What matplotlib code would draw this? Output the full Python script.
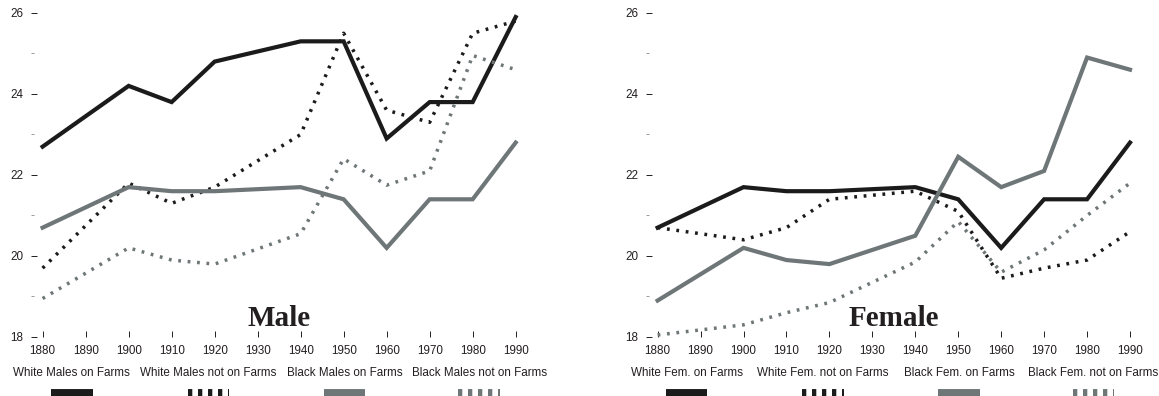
import matplotlib
matplotlib.use("Agg")
import matplotlib.pyplot as plt
from matplotlib.lines import Line2D
from matplotlib import transforms

plt.rcParams['font.family'] = ['Liberation Sans', 'DejaVu Sans']
plt.rcParams['lines.scale_dashes'] = False

# census years (no 1890 / 1930 observations)
years = [1880, 1900, 1910, 1920, 1940, 1950, 1960, 1970, 1980, 1990]
decades = list(range(1880, 2000, 10))

# median age at first marriage, men
white_m_farm = [22.7, 24.2, 23.8, 24.8, 25.3, 25.3, 22.9, 23.8, 23.8, 25.9]
white_m_nonfarm = [19.7, 21.8, 21.3, 21.7, 23.0, 25.5, 23.6, 23.3, 25.5, 25.8]
black_m_farm = [20.7, 21.7, 21.6, 21.6, 21.7, 21.4, 20.2, 21.4, 21.4, 22.8]
black_m_nonfarm = [18.95, 20.2, 19.9, 19.8, 20.55, 22.4, 21.75, 22.1, 24.95, 24.6]

# median age at first marriage, women
white_f_farm = [20.7, 21.7, 21.6, 21.6, 21.7, 21.4, 20.2, 21.4, 21.4, 22.8]
white_f_nonfarm = [20.7, 20.4, 20.7, 21.4, 21.6, 21.1, 19.45, 19.7, 19.9, 20.6]
black_f_farm = [18.9, 20.2, 19.9, 19.8, 20.5, 22.45, 21.7, 22.1, 24.9, 24.6]
black_f_nonfarm = [18.05, 18.3, 18.6, 18.85, 19.85, 20.85, 19.6, 20.15, 21.0, 21.8]

male_labels = ['White Males on Farms', 'White Males not on Farms',
               'Black Males on Farms', 'Black Males not on Farms']
female_labels = ['White Fem. on Farms', 'White Fem. not on Farms',
                 'Black Fem. on Farms', 'Black Fem. not on Farms']
legend_x = [1886.8, 1918.5, 1950.2, 1981.5]

BLACK = '#1b1b1b'
GRAY = '#6f7678'
TXT = '#231f20'
styles = [(BLACK, 'solid'), (BLACK, 'dot'), (GRAY, 'solid'), (GRAY, 'dot')]


def draw_series(ax, y, colour, kind):
    if kind == 'solid':
        ax.plot(years, y, color=colour, lw=3.0, solid_joinstyle='miter',
                clip_on=False)
    else:
        ax.plot(years, y, color=colour, lw=2.5, dashes=(2.0, 4.8),
                dash_capstyle='butt', clip_on=False)


def style_axes(ax):
    for s in ax.spines.values():
        s.set_visible(False)
    ax.set_xlim(1877.3, 1992)
    ax.set_ylim(18, 26)
    ax.set_xticks(decades)
    ax.set_yticks([18, 20, 22, 24, 26])
    ax.set_yticks([19, 21, 23, 25], minor=True)
    ax.tick_params(axis='x', direction='in', length=4.3, width=0.7,
                   pad=6, labelsize=8.4, colors=TXT)
    ax.tick_params(axis='y', which='major', direction='in', length=4.3,
                   width=0.7, pad=5.7, labelsize=8.4, colors=TXT)
    ax.tick_params(axis='y', which='minor', direction='in', length=2.2,
                   width=0.6, color='#8a8a8a')


def draw_panel(ax, series, labels, title):
    for y, (c, k) in zip(series, styles):
        draw_series(ax, y, c, k)
    style_axes(ax)
    ax.text(1935, 18.27, title, ha='center', va='baseline',
            family='Liberation Serif', fontweight='bold', fontsize=21,
            color=TXT)

    # legend row underneath: label text, sample swatch below it
    trans = transforms.blended_transform_factory(ax.transData, fig.transFigure)
    for x, lab, (c, k) in zip(legend_x, labels, styles):
        fig.text(x, 0.058, lab, transform=trans, ha='center', va='center',
                 fontsize=8.4, color=TXT)
        if k == 'solid':
            ln = Line2D([x - 4.8, x + 4.8], [0.0, 0.0], transform=trans,
                        color=c, lw=10, solid_capstyle='butt')
        else:
            ln = Line2D([x - 4.8, x + 4.8], [0.0, 0.0], transform=trans,
                        color=c, lw=10, dashes=(3.1, 4.1),
                        dash_capstyle='butt')
        fig.add_artist(ln)


fig = plt.figure(figsize=(11.59, 3.96), dpi=100)
ax_m = fig.add_axes([0.02675, 0.1490, 0.4256, 0.8182])
ax_f = fig.add_axes([0.5574, 0.1490, 0.4250, 0.8182])

draw_panel(ax_m, [white_m_farm, white_m_nonfarm, black_m_farm, black_m_nonfarm],
           male_labels, 'Male')
draw_panel(ax_f, [white_f_farm, white_f_nonfarm, black_f_farm, black_f_nonfarm],
           female_labels, 'Female')

fig.savefig('out.png', dpi=100)
